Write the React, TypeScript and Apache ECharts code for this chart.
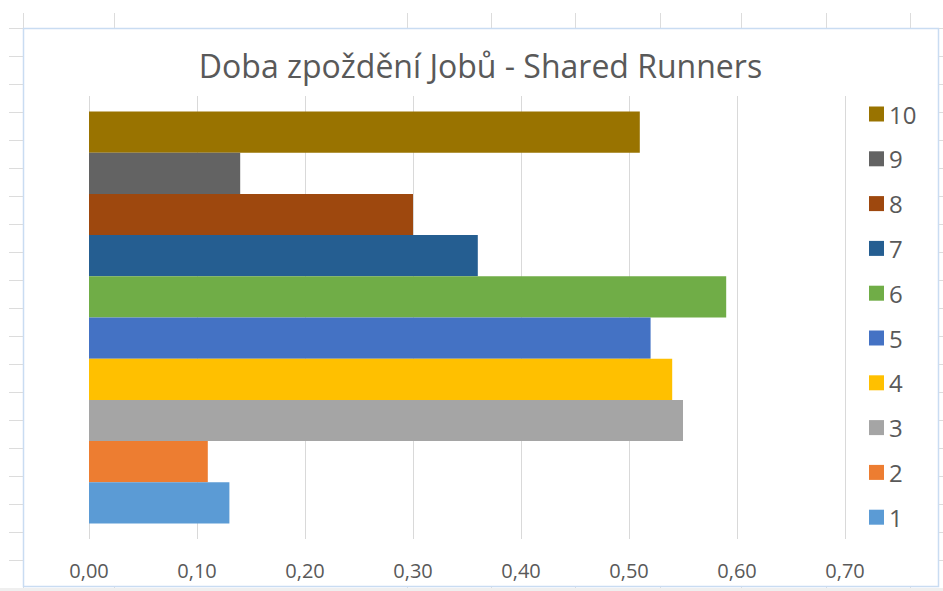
import React, { useEffect, useRef } from "react";
import * as echarts from "echarts";

const TITLE = "Doba zpoždění Jobů - Shared Runners";
const seriesNames = ["1", "2", "3", "4", "5", "6", "7", "8", "9", "10"];
const seriesValues = [0.13, 0.11, 0.55, 0.54, 0.52, 0.59, 0.36, 0.3, 0.14, 0.51];
const palette = [
  "#5B9BD5",
  "#ED7D31",
  "#A5A5A5",
  "#FFC000",
  "#4472C4",
  "#70AD47",
  "#255E91",
  "#9E480E",
  "#636363",
  "#997300",
];
const axisMin = 0;
const axisMax = 0.7;
const axisStep = 0.1;

const FONT = "'Open Sans', 'Noto Sans', sans-serif";
const TEXT = "#595959";

function sheetLines(): any[] {
  const els: any[] = [];
  const lineStyle = { stroke: "#dcdcdc", lineWidth: 1 };
  const cols = [23, 114, 407, 491, 575, 660, 741, 826, 910];
  cols.forEach((x) => {
    els.push({ type: "line", shape: { x1: x + 0.5, y1: 13, x2: x + 0.5, y2: 28 }, style: lineStyle, silent: true });
    els.push({ type: "line", shape: { x1: x + 0.5, y1: 587, x2: x + 0.5, y2: 591 }, style: lineStyle, silent: true });
  });
  for (let y = 28; y <= 588; y += 28) {
    els.push({ type: "line", shape: { x1: 9, y1: y + 0.5, x2: 23, y2: y + 0.5 }, style: lineStyle, silent: true });
    els.push({ type: "line", shape: { x1: 938, y1: y + 0.5, x2: 943, y2: y + 0.5 }, style: lineStyle, silent: true });
  }
  els.push({ type: "rect", shape: { x: 0, y: 588, width: 943, height: 3 }, style: { fill: "#efefef" }, silent: true });
  els.push({
    type: "rect",
    shape: { x: 23.5, y: 28.5, width: 915, height: 558 },
    style: { fill: "none", stroke: "#c9dcf2", lineWidth: 1.5 },
    silent: true,
  });
  return els;
}

export default function App() {
  const ref = useRef<HTMLDivElement>(null);

  useEffect(() => {
    if (!ref.current) return;
    const chart = echarts.init(ref.current, undefined, { renderer: "svg" });

    const order = seriesNames.map((_, i) => i).reverse();
    const series = order.map((i) => ({
      name: seriesNames[i],
      type: "bar",
      data: [seriesValues[i]],
      barGap: "0%",
      barCategoryGap: "7%",
      itemStyle: { color: palette[i] },
    }));

    chart.setOption({
      animation: false,
      backgroundColor: "#ffffff",
      textStyle: { fontFamily: FONT },
      grid: { left: 89, right: 98, top: 96, bottom: 52, containLabel: false },
      xAxis: {
        type: "value",
        min: axisMin,
        max: axisMax,
        interval: axisStep,
        axisLine: { show: false },
        axisTick: { show: false },
        splitLine: { show: true, lineStyle: { color: "#d9d9d9", width: 1 } },
        axisLabel: {
          color: TEXT,
          fontSize: 20,
          fontFamily: FONT,
          margin: 21,
          formatter: (v: number) => v.toFixed(2).replace(".", ","),
        },
      },
      yAxis: {
        type: "category",
        data: [""],
        axisLine: { show: false },
        axisTick: { show: false },
        axisLabel: { show: false },
        splitLine: { show: false },
      },
      legend: {
        orient: "vertical",
        left: 864,
        top: 97,
        itemWidth: 15,
        itemHeight: 15,
        itemGap: 20.8,
        icon: "rect",
        data: [...seriesNames].reverse(),
        textStyle: { color: TEXT, fontSize: 24, fontFamily: FONT, lineHeight: 24 },
      },
      graphic: [
        ...sheetLines(),
        {
          type: "text",
          x: 480.5,
          y: 65,
          style: {
            text: TITLE,
            fill: TEXT,
            font: `32px ${FONT}`,
            textAlign: "center",
            textVerticalAlign: "middle",
          },
          silent: true,
        },
      ],
      series,
    });

    return () => chart.dispose();
  }, []);

  return (
    <div
      ref={ref}
      style={{ position: "fixed", left: 0, top: 0, width: 943, height: 591 }}
    />
  );
}
